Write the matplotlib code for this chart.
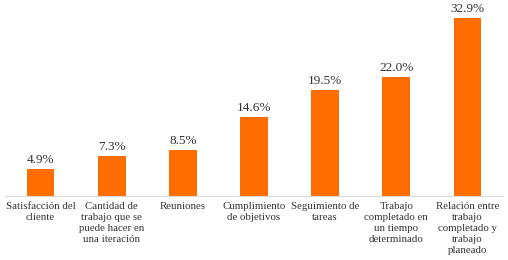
import matplotlib.pyplot as plt

# Data
categories = [
    "Satisfacción del\ncliente",
    "Cantidad de\ntrabajo que se\npuede hacer en\nuna iteración",
    "Reuniones",
    "Cumplimiento\nde objetivos",
    "Seguimiento de\ntareas",
    "Trabajo\ncompletado en\nun tiempo\ndeterminado",
    "Relación entre\ntrabajo\ncompletado y\ntrabajo\nplaneado",
]
values = [4.9, 7.3, 8.5, 14.6, 19.5, 22.0, 32.9]

plt.rcParams["font.family"] = ["Liberation Serif", "DejaVu Serif"]

fig = plt.figure(figsize=(5.08, 2.6), dpi=100)
ax = fig.add_axes([5 / 508, 64 / 260, 498 / 508, 189.4 / 260])

x = range(len(categories))
bars = ax.bar(x, values, width=0.39, color="#FF6D00")
for xi, v in zip(x, values):
    ax.text(xi, v + 0.6, f"{v:.1f}%", ha="center", va="bottom",
            fontsize=9.5, color="#333333")

ax.set_xlim(-0.5, len(categories) - 0.5)
ax.set_ylim(0, 35)
ax.set_xticks(list(x))
ax.set_xticklabels(categories, fontsize=7.8, color="#333333", linespacing=1.3)
ax.tick_params(axis="x", length=0, pad=4)
ax.set_yticks([])
for s in ["top", "right", "left"]:
    ax.spines[s].set_visible(False)
ax.spines["bottom"].set_color("#D9D9D9")

plt.savefig("out.png", dpi=100)
